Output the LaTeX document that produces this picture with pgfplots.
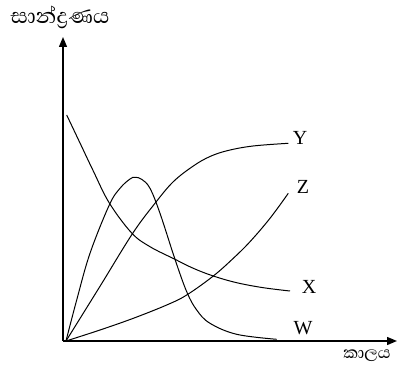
\documentclass[border=0pt]{standalone}
\usepackage{pgfplots}
\pgfplotsset{compat=1.18}
\usepackage{fontspec}
\setmainfont{Liberation Serif}
\newfontfamily\sinhala[Script=Sinhala]{Abhaya Libre}
\usetikzlibrary{arrows.meta}

\begin{document}
\begin{tikzpicture}
\begin{axis}[
  scale only axis,
  width=334pt, height=304pt,
  xmin=0, xmax=334, ymin=0, ymax=304,
  axis lines=left,
  axis line style={line width=1.4pt, -{Triangle[length=10pt,width=8pt]}},
  xtick=\empty, ytick=\empty,
  clip=false,
  curve/.style={black, line width=1pt, smooth, tension=0.6, mark=none},
]
% bounding box of the whole picture
\path (axis cs:-63,-31) rectangle (axis cs:335,341);

% X
\addplot[curve] coordinates {
  (3.7,226) (17,198) (30.3,170) (46.3,138) (68.7,108) (87,94.3)
  (112,81.7) (130.3,72.7) (150.3,65) (173.7,58.3) (200.3,53.3) (227,50)
};
% Y
\addplot[curve] coordinates {
  (3,0) (37,54.7) (69.7,107.7) (92,137.7) (110.3,159.3) (130.3,175)
  (147,184.5) (165,190.5) (190,195) (225.3,197.7)
};
% Z
\addplot[curve] coordinates {
  (3,0) (37,11) (70.3,22.7) (103.7,36) (123.7,46) (150.3,65)
  (170.3,82.7) (187,99.3) (207,122.7) (225.3,147.7)
};
% W
\addplot[curve] coordinates {
  (3,0) (13.7,41) (27,87.7) (46.3,136) (57,152.7) (67,162) (72,163.7)
  (78.7,161.7) (87,152.7) (97,127.7) (112,81.7) (123.7,49.3) (133.7,31)
  (147,17.7) (173.7,6.7) (213.7,1.7)
};

\node[font=\fontsize{20}{22}\selectfont] at (axis cs:237,203) {Y};
\node[font=\fontsize{20}{22}\selectfont] at (axis cs:240,154) {Z};
\node[font=\fontsize{20}{22}\selectfont] at (axis cs:246,54) {X};
\node[font=\fontsize{20}{22}\selectfont] at (axis cs:240,13) {W};

\node[font=\sinhala\fontsize{27}{29}\selectfont] at (axis cs:-3,324) {සාන්ද්‍රණය};
\node[font=\sinhala\fontsize{21}{23}\selectfont] at (axis cs:304,-15) {කාලය};
\end{axis}
\end{tikzpicture}
\end{document}
